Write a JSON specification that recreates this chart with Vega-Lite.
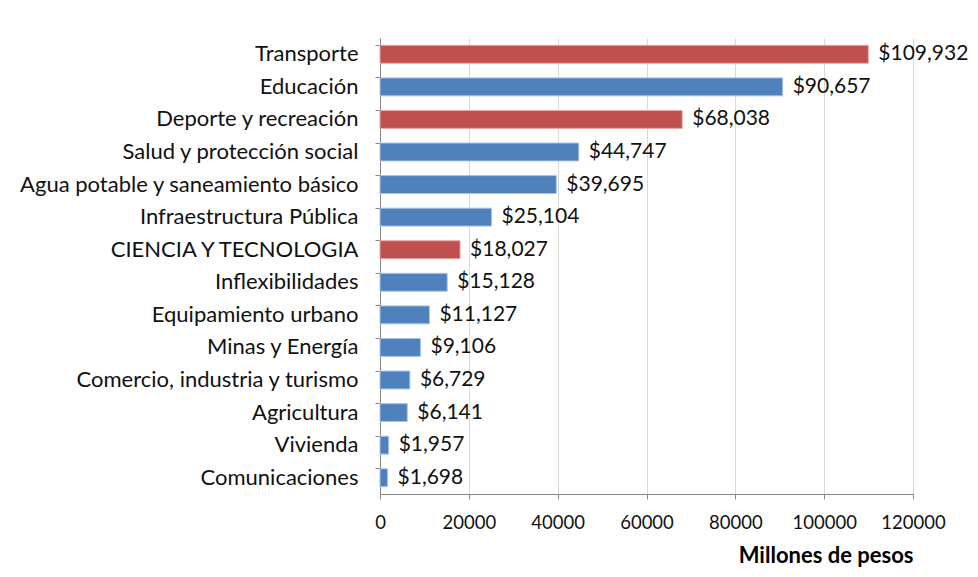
{
  "$schema": "https://vega.github.io/schema/vega-lite/v6.json",
  "autosize": "none",
  "width": 533,
  "height": 456,
  "padding": {"left": 380, "top": 38, "right": 65, "bottom": 83},
  "background": "white",
  "config": {"view": {"stroke": null}, "font": "Lato"},
  "data": {"values": [
    {"sector": "Transporte", "valor": 109932, "grupo": "rojo"},
    {"sector": "Educación", "valor": 90657, "grupo": "azul"},
    {"sector": "Deporte y recreación", "valor": 68038, "grupo": "rojo"},
    {"sector": "Salud y protección social", "valor": 44747, "grupo": "azul"},
    {"sector": "Agua potable y saneamiento básico", "valor": 39695, "grupo": "azul"},
    {"sector": "Infraestructura Pública", "valor": 25104, "grupo": "azul"},
    {"sector": "CIENCIA Y TECNOLOGIA", "valor": 18027, "grupo": "rojo"},
    {"sector": "Inflexibilidades", "valor": 15128, "grupo": "azul"},
    {"sector": "Equipamiento urbano", "valor": 11127, "grupo": "azul"},
    {"sector": "Minas y Energía", "valor": 9106, "grupo": "azul"},
    {"sector": "Comercio, industria y turismo", "valor": 6729, "grupo": "azul"},
    {"sector": "Agricultura", "valor": 6141, "grupo": "azul"},
    {"sector": "Vivienda", "valor": 1957, "grupo": "azul"},
    {"sector": "Comunicaciones", "valor": 1698, "grupo": "azul"}
  ]},
  "encoding": {
    "y": {
      "field": "sector", "type": "nominal", "sort": null,
      "scale": {"paddingInner": 0.45, "paddingOuter": 0.225},
      "axis": {
        "title": null, "bandPosition": 0, "tickSize": 5, "tickColor": "#868686",
        "domainColor": "#868686", "labelFontSize": 22, "labelColor": "#111111",
        "labelPadding": 17, "labelFont": "Lato", "labelLimit": 400, "grid": false
      }
    },
    "x": {
      "field": "valor", "type": "quantitative",
      "scale": {"domain": [0, 120000], "nice": false},
      "axis": {
        "values": [0, 20000, 40000, 60000, 80000, 100000, 120000],
        "labelOverlap": false, "labelFlush": false,
        "format": "d", "tickSize": 5, "tickColor": "#868686", "domainColor": "#868686",
        "gridColor": "#d9d9d9", "labelFontSize": 18.5, "labelColor": "#111111",
        "labelPadding": 14, "labelFont": "Lato",
        "title": "Millones de pesos", "titleFontSize": 22, "titleFontWeight": "bold",
        "titleAnchor": "end", "titlePadding": 14, "titleColor": "#000000", "titleFont": "Lato"
      }
    }
  },
  "layer": [
    {
      "mark": {"type": "bar", "strokeWidth": 1},
      "encoding": {
        "color": {
          "field": "grupo", "type": "nominal", "legend": null,
          "scale": {"domain": ["rojo", "azul"], "range": ["#C0504D", "#4F81BD"]}
        },
        "stroke": {
          "field": "grupo", "type": "nominal", "legend": null,
          "scale": {"domain": ["rojo", "azul"], "range": ["#e8a8a6", "#a9c4e6"]}
        }
      }
    },
    {
      "mark": {"type": "text", "align": "left", "dx": 10, "fontSize": 21, "font": "Lato", "color": "#111111"},
      "encoding": {"text": {"field": "valor", "type": "quantitative", "format": "$,.0f"}}
    }
  ]
}
